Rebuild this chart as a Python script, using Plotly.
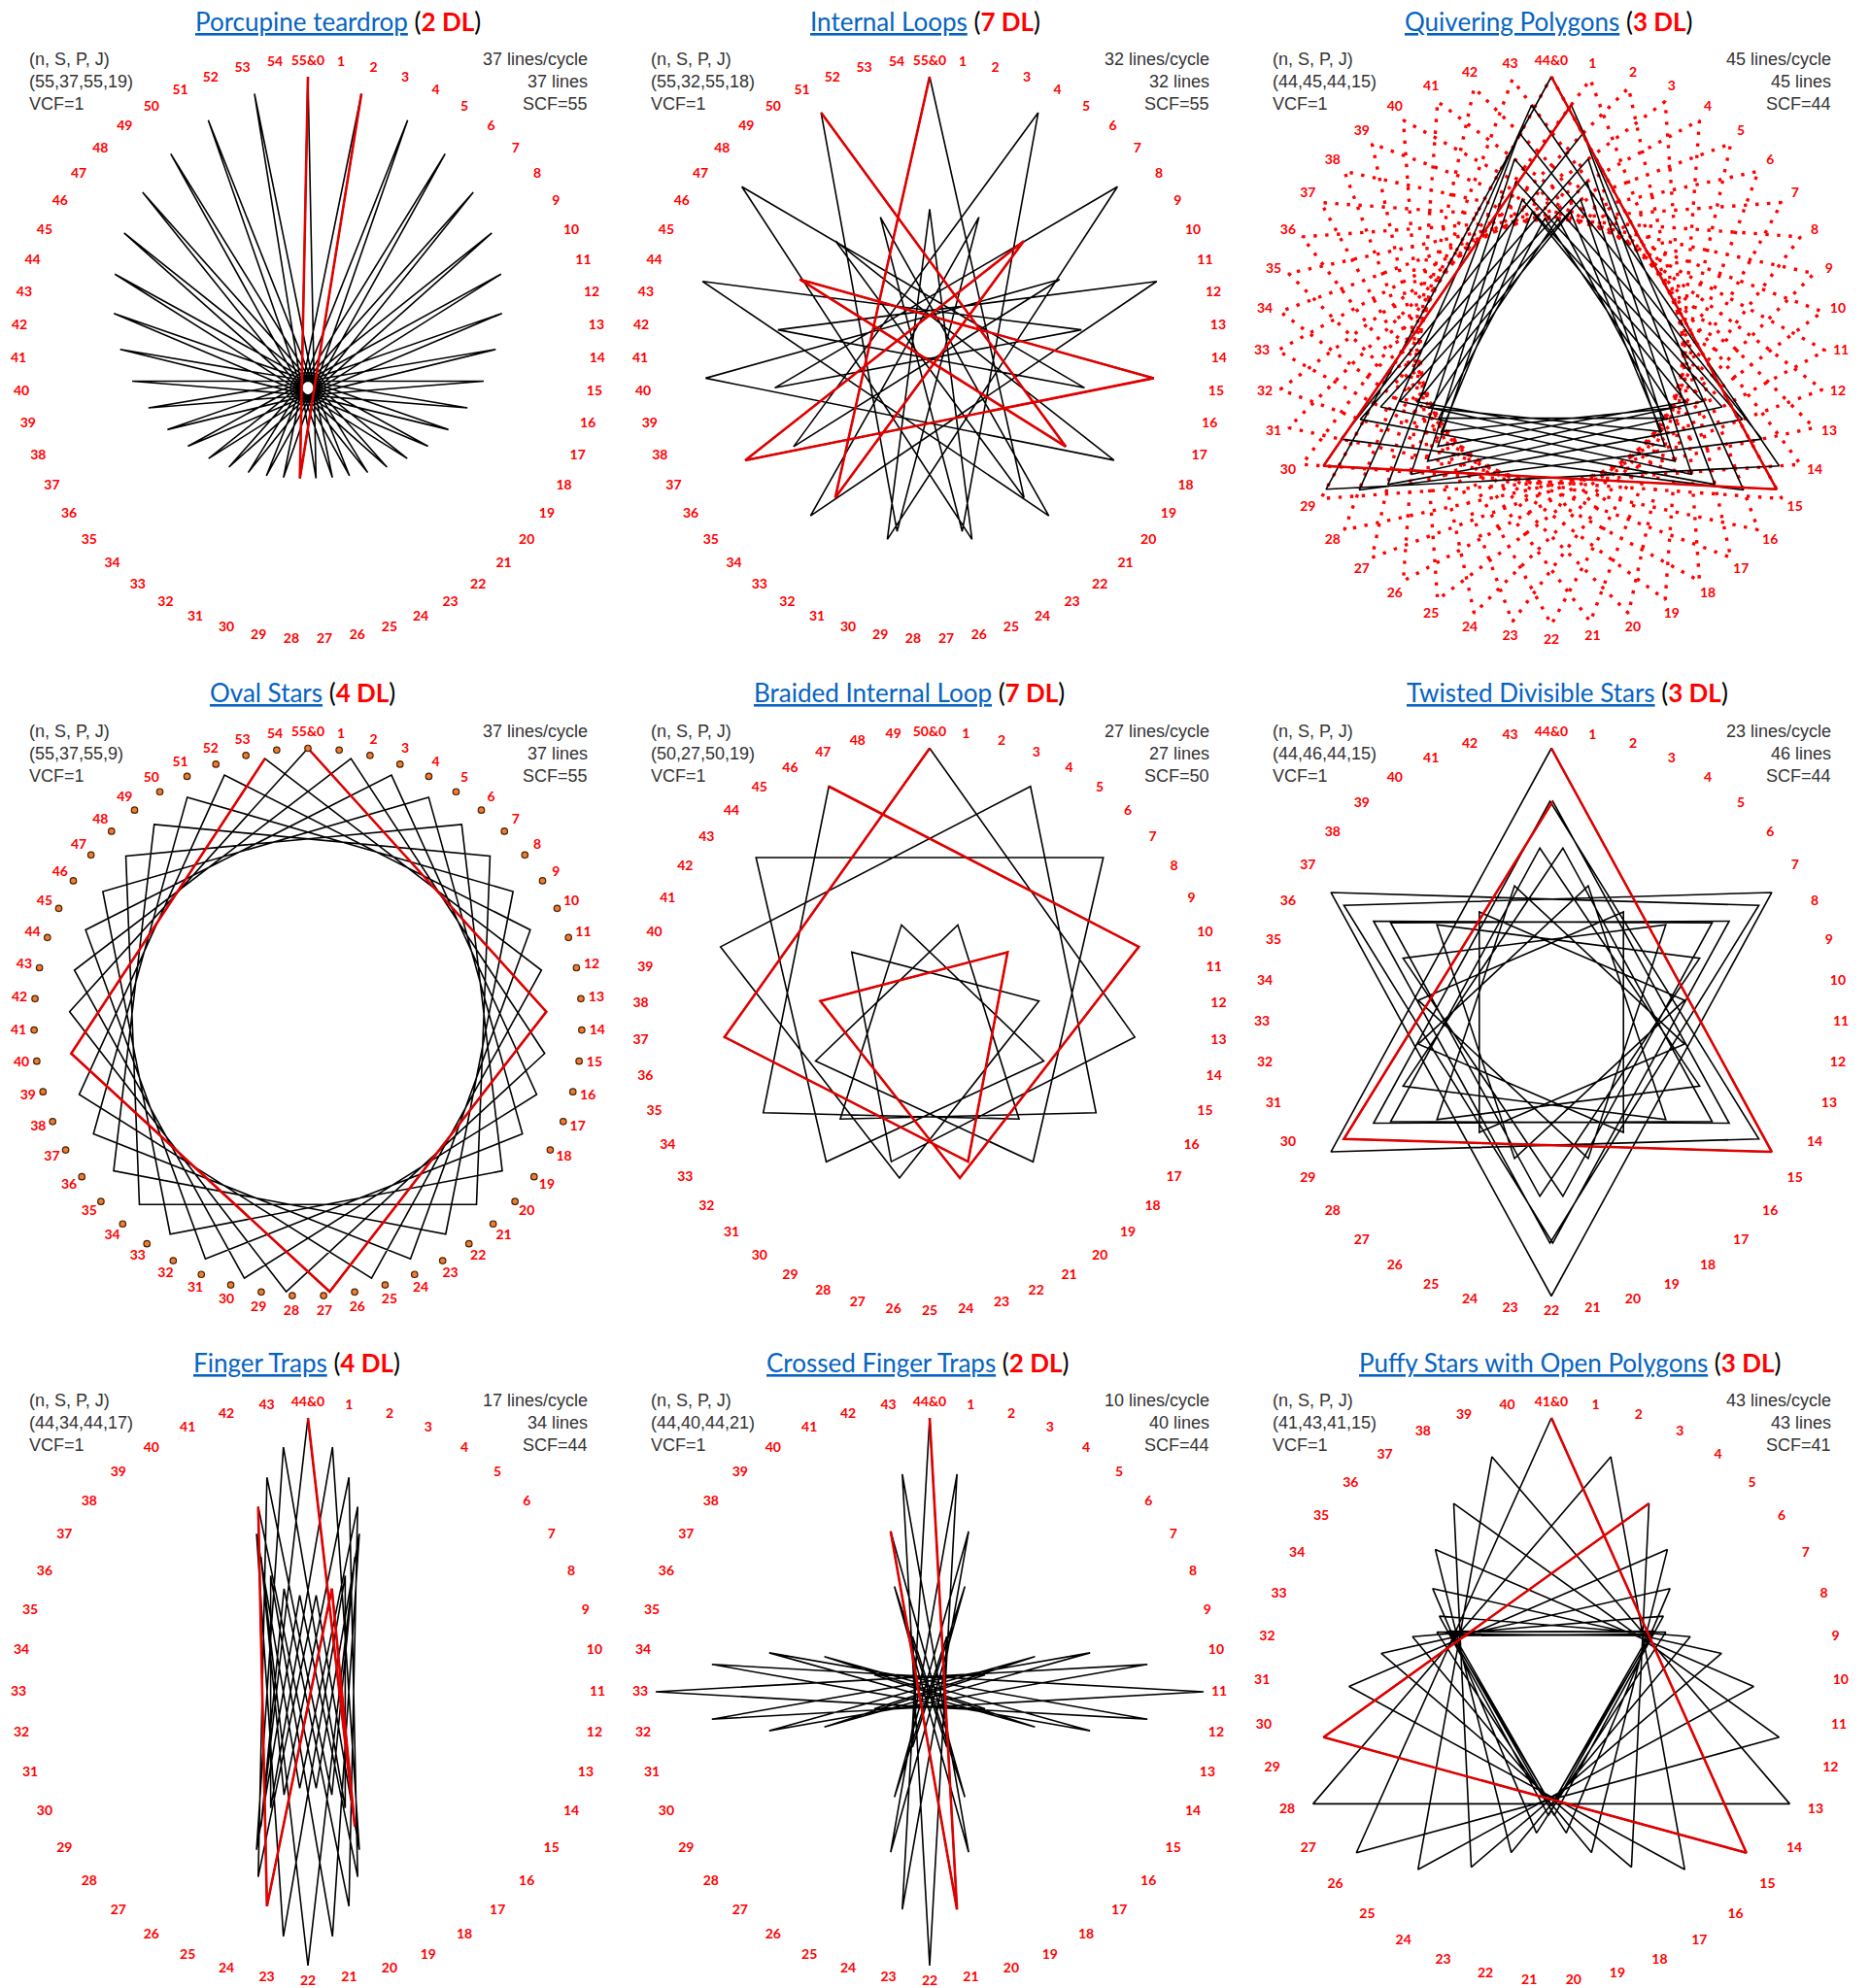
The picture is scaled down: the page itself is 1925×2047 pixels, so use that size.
import numpy as np
import plotly.graph_objects as go

# ---------------- data ----------------
titles = ["Porcupine teardrop", "Internal Loops", "Quivering Polygons",
          "Oval Stars", "Braided Internal Loop", "Twisted Divisible Stars",
          "Finger Traps", "Crossed Finger Traps", "Puffy Stars with Open Polygons"]
n_vals = [55, 55, 44, 55, 50, 44, 44, 44, 41]
s_vals = [37, 32, 45, 37, 27, 46, 34, 40, 43]
p_vals = [55, 55, 44, 55, 50, 44, 44, 44, 41]
j_vals = [19, 18, 15, 9, 19, 15, 17, 21, 15]
dl_vals = [2, 7, 3, 4, 7, 3, 4, 2, 3]
vcf_vals = [1, 1, 1, 1, 1, 1, 1, 1, 1]
scf_vals = [55, 55, 44, 55, 50, 44, 44, 44, 41]
lines_per_cycle = [37, 32, 45, 37, 27, 23, 17, 10, 43]
total_lines = [37, 32, 45, 37, 27, 46, 34, 40, 43]

# ---------------- styles / layout ----------------
pin_style = ["none", "none", "dotted", "markers", "none", "none", "none", "none", "none"]
W, H = 1925, 2047
R_PX = 282.0                     # pixel radius of the pin circle
COL_CX = [317, 957, 1597]
ROW_CY = [361, 1052.5, 1742]
TITLE_CX = [348, 952, 1594, 311, 936, 1613, 305, 944, 1616]
LABEL_R = 298.0 / R_PX
BLACK_W, RED_W = 1.6, 2.6
RED = "#E00000"


def pin(p, n):
    th = 2 * np.pi * (p % n) / n
    return np.sin(th), np.cos(th)


def string_path(n, S, P, J):
    xs, ys = [], []
    for k in range(S + 1):
        m, rem = divmod(k * P, S)
        f = rem / S
        ax_, ay_ = pin(m * J, n)
        bx, by = pin((m + 1) * J, n)
        xs.append(ax_ + f * (bx - ax_))
        ys.append(ay_ + f * (by - ay_))
    return xs, ys


fig = go.Figure()
annotations = []
layout_axes = {}

for i in range(9):
    r, c = divmod(i, 3)
    cx, cy = COL_CX[c], ROW_CY[r]
    x0, x1 = 640 * c, min(640 * c + 640, W)
    y0, y1 = cy - 361, min(cy + 331, H)
    sfx = "" if i == 0 else str(i + 1)
    layout_axes["xaxis" + sfx] = dict(domain=[x0 / W, x1 / W],
                                      range=[(x0 - cx) / R_PX, (x1 - cx) / R_PX],
                                      visible=False, fixedrange=True, anchor="y" + sfx)
    layout_axes["yaxis" + sfx] = dict(domain=[1 - y1 / H, 1 - y0 / H],
                                      range=[(cy - y1) / R_PX, (cy - y0) / R_PX],
                                      visible=False, fixedrange=True, anchor="x" + sfx)
    xa, ya = "x" + sfx, "y" + sfx

    n, S, P, J, dl = n_vals[i], s_vals[i], p_vals[i], j_vals[i], dl_vals[i]
    px = [pin(k, n)[0] for k in range(n)]
    py = [pin(k, n)[1] for k in range(n)]

    # base star polygon (dotted) for Quivering Polygons
    if pin_style[i] == "dotted":
        bx = [pin(m * J, n)[0] for m in range(n + 1)]
        by = [pin(m * J, n)[1] for m in range(n + 1)]
        fig.add_trace(go.Scatter(x=bx, y=by, mode="lines", xaxis=xa, yaxis=ya,
                                 line=dict(color="#FF0000", width=3.4, dash="3.4px,8.6px"),
                                 hoverinfo="skip", showlegend=False))

    vx, vy = string_path(n, S, P, J)
    fig.add_trace(go.Scatter(x=vx, y=vy, mode="lines", xaxis=xa, yaxis=ya,
                             line=dict(color="#000000", width=BLACK_W),
                             hoverinfo="skip", showlegend=False))
    fig.add_trace(go.Scatter(x=vx[:dl + 1], y=vy[:dl + 1], mode="lines", xaxis=xa, yaxis=ya,
                             line=dict(color=RED, width=RED_W),
                             hoverinfo="skip", showlegend=False))

    if pin_style[i] == "markers":
        fig.add_trace(go.Scatter(x=px, y=py, mode="markers", xaxis=xa, yaxis=ya,
                                 marker=dict(size=6.5, color="#ED7D31",
                                             line=dict(color="#4A2206", width=1.2)),
                                 hoverinfo="skip", showlegend=False))

    labels = [f"{n}&0"] + [str(k) for k in range(1, n)]
    fig.add_trace(go.Scatter(x=[LABEL_R * v for v in px], y=[LABEL_R * v for v in py],
                             mode="text", text=labels, xaxis=xa, yaxis=ya,
                             textposition="middle center", cliponaxis=False,
                             textfont=dict(family="Lato", size=14, color="#FF0000", weight="bold"),
                             hoverinfo="skip", showlegend=False))

    title_text = (f'<span style="color:#0563C1;text-decoration:underline">{titles[i]}</span>'
                  f' (<span style="color:#FF0000"><b>{dl} DL</b></span>)')
    annotations.append(dict(xref="paper", yref="paper", x=TITLE_CX[i] / W, y=1 - (cy - 339) / H,
                            text=title_text, showarrow=False, xanchor="center", yanchor="middle",
                            font=dict(family="Lato", size=26, color="#000000")))

    left_lines = ["(n, S, P, J)", f"({n},{S},{P},{J})", f"VCF={vcf_vals[i]}"]
    right_lines = [f"{lines_per_cycle[i]} lines/cycle", f"{total_lines[i]} lines", f"SCF={scf_vals[i]}"]
    for j in range(3):
        yy = 1 - (cy - 300 + 23 * j) / H
        annotations.append(dict(xref="paper", yref="paper", x=(640 * c + 28) / W, y=yy,
                                text=left_lines[j], showarrow=False, xanchor="left", yanchor="middle",
                                font=dict(family="Liberation Sans", size=18, color="#333333")))
        annotations.append(dict(xref="paper", yref="paper", x=(640 * c + 607) / W, y=yy,
                                text=right_lines[j], showarrow=False, xanchor="right", yanchor="middle",
                                font=dict(family="Liberation Sans", size=18, color="#333333")))

fig.update_layout(width=W, height=H, margin=dict(l=0, r=0, t=0, b=0),
                  paper_bgcolor="white", plot_bgcolor="white", showlegend=False,
                  annotations=annotations, **layout_axes)

fig.write_html("out.html", config={"displayModeBar": False},
               post_script="document.body.style.margin='0';")
